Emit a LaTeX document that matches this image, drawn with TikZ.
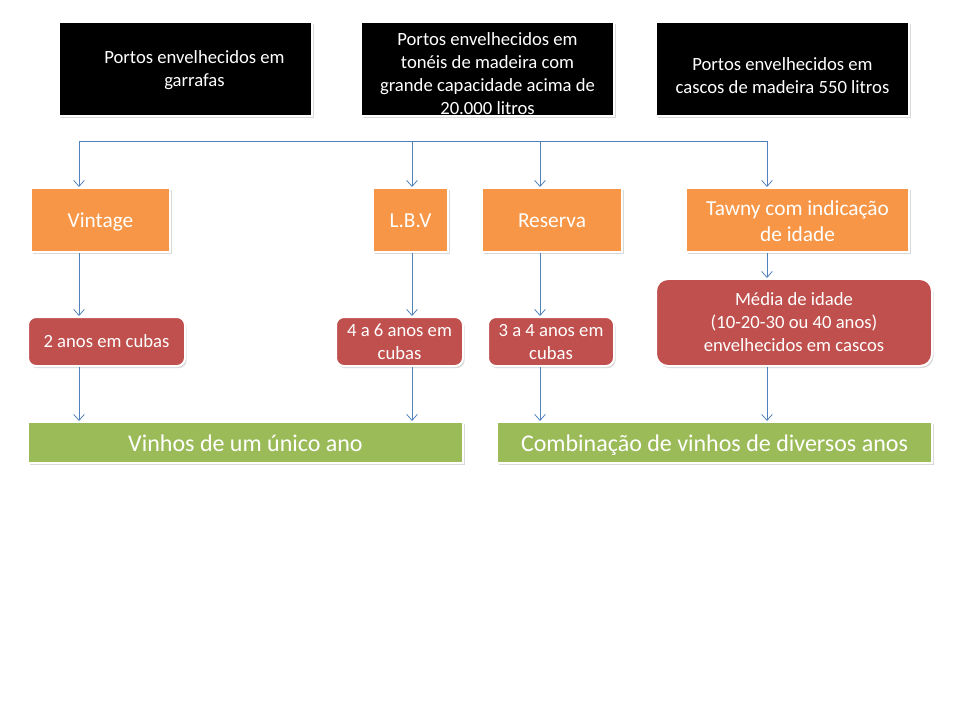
\documentclass[tikz,border=0pt]{standalone}
\usepackage{fontspec}
\setmainfont{Carlito}
\usetikzlibrary{arrows.meta,shadows}
\definecolor{linkblue}{HTML}{4F81BD}
\definecolor{boxorange}{HTML}{F79646}
\definecolor{boxred}{HTML}{C0504D}
\definecolor{boxgreen}{HTML}{9BBB59}
% move the text inside its box, the box itself stays
\newcommand\nudge[3]{\raisebox{-#2}[\height][\depth]{\hspace*{#1}\begin{tabular}{@{}c@{}}#3\end{tabular}}}
\tikzset{
	box/.style={rectangle, draw=white, line width=1.5pt, inner sep=0pt, text=white, align=center,
		drop shadow={shadow xshift=1.2pt, shadow yshift=-1.6pt, opacity=0.3}},
	cask/.style={box, fill=black, minimum width=189.75pt, minimum height=70.5pt, font=\fontsize{14}{17.25}\selectfont},
	style/.style={box, fill=boxorange, minimum height=48pt, font=\fontsize{16}{19.5}\selectfont},
	age/.style={box, fill=boxred, rounded corners=6pt, minimum height=36.75pt, font=\fontsize{14}{17.25}\selectfont},
	result/.style={box, fill=boxgreen, minimum width=326.25pt, minimum height=30.75pt, font=\fontsize{18}{22}\selectfont},
	link/.style={linkblue, line width=0.6pt, -{Straight Barb[length=4.5pt,width=8pt]}}
}

\begin{document}
\begin{tikzpicture}[x=0.75pt, y=-0.75pt]
		%%%%% START %%%%%
		\useasboundingbox (0, 0) rectangle (960, 720);
		
		\node[cask] (bottle) at (185.5, 69) {\nudge{13.5pt}{0.75pt}{Portos envelhecidos em\\garrafas}};
		\node[cask] (vat) at (487.5, 69) {\nudge{0pt}{4.5pt}{Portos envelhecidos em\\tonéis de madeira com\\grande capacidade acima de\\20.000 litros}};
		\node[cask] (barrel) at (782.5, 69) {\nudge{0pt}{6pt}{Portos envelhecidos em\\cascos de madeira 550 litros}};
		
		\node[style, minimum width=104.25pt] (vintage) at (100.5, 220) {\nudge{0pt}{2pt}{Vintage}};
		\node[style, minimum width=56.25pt] (lbv) at (410.5, 220) {\nudge{0pt}{2pt}{L.B.V}};
		\node[style, minimum width=105pt] (reserva) at (552, 220) {\nudge{0pt}{1.6pt}{Reserva}};
		\node[style, minimum width=167.25pt] (tawny) at (797.5, 220) {\nudge{0pt}{2.25pt}{Tawny com indicação\\de idade}};
		
		\node[age, minimum width=117.75pt] (twoyears) at (106.5, 341.5) {2 anos em cubas};
		\node[age, minimum width=95.25pt] (fourtosix) at (399.5, 341.5) {4 a 6 anos em\\cubas};
		\node[age, minimum width=94.5pt] (threetofour) at (551, 341.5) {\nudge{0pt}{1.6pt}{3 a 4 anos em\\cubas}};
		\node[age, minimum width=207pt, minimum height=65.25pt, rounded corners=9pt] (average) at (794, 322.5) {Média de idade\\(10-20-30 ou 40 anos)\\envelhecidos em cascos};
		
		\node[result] (single) at (245.5, 442.5) {\nudge{0pt}{2.25pt}{Vinhos de um único ano}};
		\node[result] (blend) at (714.5, 442.5) {\nudge{0pt}{2.25pt}{Combinação de vinhos de diversos anos}};
		
		\coordinate (colA) at (79, 141);
		\coordinate (colB) at (412, 141);
		\coordinate (colC) at (540, 141);
		\coordinate (colD) at (767, 141);
		
		\draw[linkblue, line width=0.6pt] (colA) -- (colD);
		\foreach \col/\top/\mid/\bot in {colA/vintage/twoyears/single, colB/lbv/fourtosix/single, colC/reserva/threetofour/blend, colD/tawny/average/blend} {
			\draw[link] (\col) -- (\col |- \top.north);
			\draw[link] (\col |- \top.south) -- (\col |- \mid.north);
			\draw[link] (\col |- \mid.south) -- (\col |- \bot.north);
		}
		%%%%% END %%%%%
	\end{tikzpicture}
\end{document}
